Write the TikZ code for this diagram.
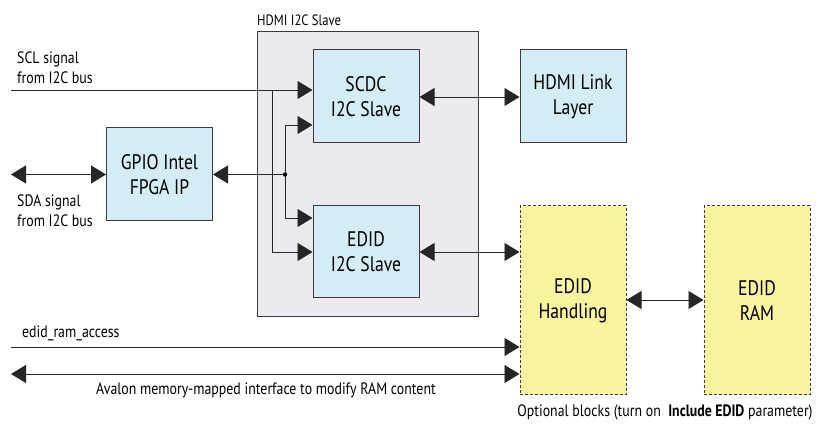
\documentclass[tikz,border=0pt]{standalone}
\usepackage{fontspec}
\setmainfont[FakeStretch=0.84]{PT Sans}
\usetikzlibrary{arrows.meta}
\definecolor{boxblue}{RGB}{212,236,243}
\definecolor{contfill}{RGB}{236,233,240}
\definecolor{optyellow}{RGB}{250,243,160}
\definecolor{edge}{RGB}{60,60,60}
\tikzset{
  blk/.style={draw=edge, line width=1pt, fill=boxblue, minimum width=106pt, minimum height=93pt, align=center, inner sep=0pt, font=\fontsize{21}{25}\selectfont},
  optblk/.style={draw=edge, line width=1pt, dashed, dash pattern=on 3pt off 2pt, fill=optyellow, minimum width=106pt, minimum height=189pt, align=center, inner sep=0pt, font=\fontsize{21}{25}\selectfont},
  cont/.style={draw=edge, line width=1pt, fill=contfill},
  sig/.style={line width=0.9pt, draw=black!85},
  tip/.style={sig, -{Triangle[length=15pt,width=18pt]}},
  bitip/.style={sig, {Triangle[length=15pt,width=18pt]}-{Triangle[length=15pt,width=18pt]}},
  lbl/.style={align=left, inner sep=0pt, font=\fontsize{16.5}{20}\selectfont},
}
\begin{document}
\begin{tikzpicture}[x=1pt, y=-1pt]
\useasboundingbox (0,0) rectangle (823,427);
% container
\draw[cont] (257,32) rectangle (478,317);
\node[anchor=west, inner sep=0pt, font=\fontsize{15}{18}\selectfont] (contlbl) at (257,20) {HDMI I2C Slave};
% blocks
\node[blk] (scdc) at (366,96.5) {SCDC\\I2C Slave};
\node[blk, minimum height=92pt] (edid) at (366,252) {EDID\\I2C Slave};
\node[blk] (link) at (573,96.5) {HDMI Link\\Layer};
\node[blk] (gpio) at (159.5,174.5) {GPIO Intel\\FPGA IP};
\node[optblk] (hand) at (573,300.5) {EDID\\Handling};
\node[optblk] (ram) at (757,300.5) {EDID\\RAM};
% coordinates
\coordinate (scl) at (11,90);
\coordinate (b1) at (272,90);
\coordinate (j) at (285,174.5);
\coordinate (sda) at (11,174.5);
\coordinate (era) at (11,347);
\coordinate (ava) at (11,374);
% connectors
\draw[tip] (scl) -- (scdc.west |- scl);
\draw[tip] (b1) |- (edid.west |- 0,252);
\draw[tip] (j) |- (scdc.west |- 0,125);
\draw[tip] (j) |- (edid.west |- 0,218);
\draw[tip] (j) -- (gpio.east);
\fill (j) circle (2.2pt);
\draw[bitip] (sda) -- (gpio.west);
\draw[bitip] (scdc.east |- 0,97) -- (link.west |- 0,97);
\draw[bitip] (edid.east) -- (hand.west |- edid.east);
\draw[bitip] (hand.east |- 0,300) -- (ram.west |- 0,300);
\draw[tip] (era) -- (hand.west |- era);
\draw[bitip] (ava) -- (hand.west |- ava);
% labels
\node[lbl, anchor=west] (scllbl) at (17,68) {SCL signal\\from I2C bus};
\node[lbl, anchor=west] (sdalbl) at (17,211) {SDA signal\\from I2C bus};
\node[lbl, anchor=west] (eralbl) at (22,333) {edid\_ram\_access};
\node[lbl] (avalbl) at (266,390) {Avalon memory-mapped interface to modify RAM content};
\node[lbl] (optlbl) at (665,412) {Optional blocks (turn on~ \textbf{Include EDID} parameter)};
\end{tikzpicture}
\end{document}
